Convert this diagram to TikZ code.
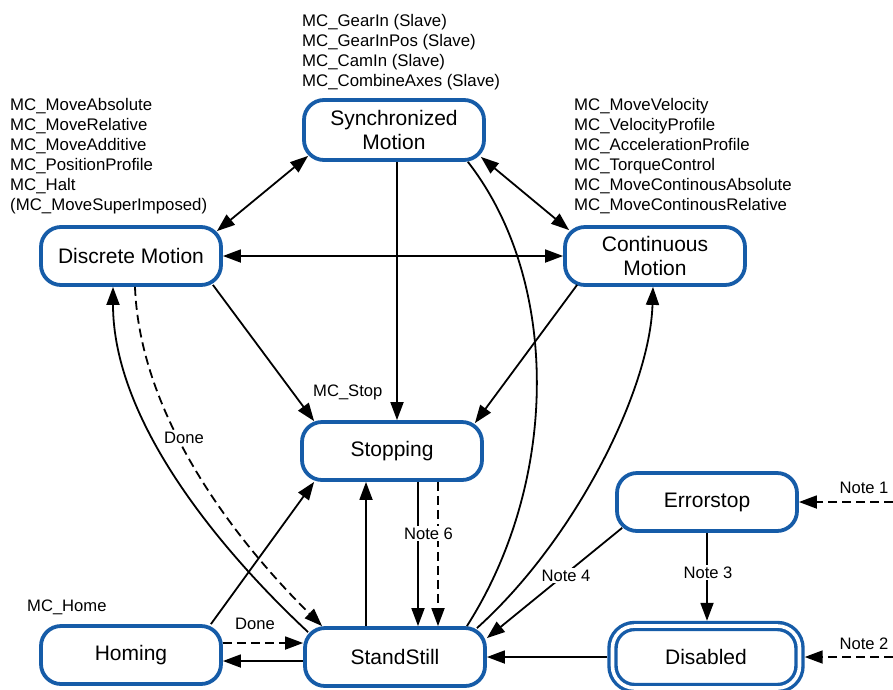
\documentclass[tikz,border=0pt]{standalone}
\usepackage{fontspec}
\setmainfont{Liberation Sans}
\usetikzlibrary{arrows.meta,calc}
\definecolor{stateblue}{RGB}{22,92,168}
\tikzset{
  state/.style={draw=stateblue, fill=white, line width=3.8pt, rounded corners=20pt,
    minimum width=180pt, minimum height=58pt, align=center, inner sep=2pt,
    font=\fontsize{21}{24}\selectfont},
  fblist/.style={anchor=north west, align=left, inner sep=0pt,
    font=\fontsize{16.8}{20}\selectfont},
  lbl/.style={font=\fontsize{16.6}{20}\selectfont, inner sep=0pt, anchor=base},
  onlbl/.style={lbl, fill=white, inner sep=1.5pt},
  trans/.style={line width=1.8pt, -{Triangle[length=18pt,width=13pt]}},
  bitrans/.style={line width=1.8pt, {Triangle[length=18pt,width=13pt]}-{Triangle[length=18pt,width=13pt]}},
  plainline/.style={line width=1.8pt},
  dashedline/.style={dash pattern=on 9pt off 5pt}
}
\begin{document}
\begin{tikzpicture}[x=1pt,y=-1pt]
\fill[white] (0,0) rectangle (893,689);
\useasboundingbox (0,0) rectangle (893,689);

% states
\node[state, minimum height=60pt] (sync) at (394,130) {Synchronized\\Motion};
\node[state] (disc) at (131,256) {Discrete Motion};
\node[state] (cont) at (655,256) {Continuous\\Motion};
\node[state] (stop) at (392,451) {Stopping};
\node[state] (err) at (707,502) {Errorstop};
\node[state, line width=3.4pt, double=white, double distance=3.6pt,
      minimum width=187pt, minimum height=62pt, rounded corners=22pt,
      outer sep=5.2pt] (dis) at (706,657) {Disabled};
\node[state] (hom) at (131,655) {Homing};
\node[state] (ss) at (395,657) {StandStill};

% function block lists
\node[fblist] (fbsync) at (302,14.6) {MC\_GearIn (Slave)\\MC\_GearInPos (Slave)\\MC\_CamIn (Slave)\\MC\_CombineAxes (Slave)};
\node[fblist] (fbdisc) at (10,98.5) {MC\_MoveAbsolute\\MC\_MoveRelative\\MC\_MoveAdditive\\MC\_PositionProfile\\MC\_Halt\\(MC\_MoveSuperImposed)};
\node[fblist] (fbcont) at (574,97.8) {MC\_MoveVelocity\\MC\_VelocityProfile\\MC\_AccelerationProfile\\MC\_TorqueControl\\MC\_MoveContinousAbsolute\\MC\_MoveContinousRelative};
\node[lbl, anchor=base west] (fbhome) at (27,611) {MC\_Home};
\node[lbl, anchor=base west] (fbstop) at (313,396) {MC\_Stop};

% transitions between the motion states
\draw[bitrans] ([shift={(6,-6)}]sync.south west) -- ([shift={(-6,6)}]disc.north east);
\draw[bitrans] ([shift={(-5,-5)}]sync.south east) -- ([shift={(6,5)}]cont.north west);
\draw[bitrans] (disc.east) -- (cont.west);

% into Stopping
\draw[trans] ([shift={(-10,-2)}]disc.south east) -- ([shift={(14,1)}]stop.north west);
\draw[trans] ([xshift=3]sync.south) -- ([xshift=3]sync.south |- stop.north);
\draw[trans] ([shift={(14,-2)}]cont.south west) -- ([shift={(-9,3)}]stop.north east);
\draw[trans] ([xshift=-12]hom.north east) -- ([xshift=14]stop.south west);
\draw[trans] ([xshift=-29]ss.north) -- ([xshift=-29]ss.north |- stop.south);

% Stopping back to StandStill
\draw[trans] ([xshift=26]stop.south) -- ([xshift=26]stop.south |- ss.north);
\draw[trans, dashedline] ([xshift=46]stop.south) -- ([xshift=46]stop.south |- ss.north);

% StandStill and the motion states
\draw[plainline] ([xshift=-18]sync.south east) .. controls (560,280) and (560,480) .. ([xshift=-20]ss.north east);
\draw[trans] ([shift={(-10,2)}]ss.north east) .. controls (575,540) and (650,390) .. ([xshift=-2]cont.south);
\draw[trans] ([shift={(5,6)}]ss.north west) .. controls (218,548) and (113,420) .. ([xshift=-18]disc.south);
\draw[trans, dashedline] ([xshift=4]disc.south) .. controls (140,420) and (240,545) .. ([xshift=19]ss.north west);

% Homing
\draw[trans, dashedline] ([shift={(0,-12)}]hom.east) -- ([shift={(0,-12)}]hom.east -| ss.west);
\draw[trans] ([shift={(0,4)}]ss.west) -- ([shift={(0,4)}]ss.west -| hom.east);

% error handling
\draw[trans] ([shift={(7,-5)}]err.south west) -- ([shift={(0,12)}]ss.north east);
\draw[trans] (dis.west) -- (ss.east);
\draw[trans] (err.south) -- (err.south |- dis.north);
\coordinate (n1) at (893,502);
\coordinate (n2) at (893,657);
\draw[trans, dashedline] (n1) -- (err.east);
\draw[trans, dashedline] (n2) -- (dis.east);

% transition labels
\node[onlbl] (ldone1) at (184,443) {Done};
\node[lbl] (ldone2) at (255,629) {Done};
\node[onlbl] (lnote6) at (428.5,539) {Note 6};
\node[onlbl] (lnote4) at (566,581) {Note 4};
\node[onlbl] (lnote3) at (708,578) {Note 3};
\node[lbl] (lnote1) at (864,493) {Note 1};
\node[lbl] (lnote2) at (864,649) {Note 2};
\end{tikzpicture}
\end{document}
